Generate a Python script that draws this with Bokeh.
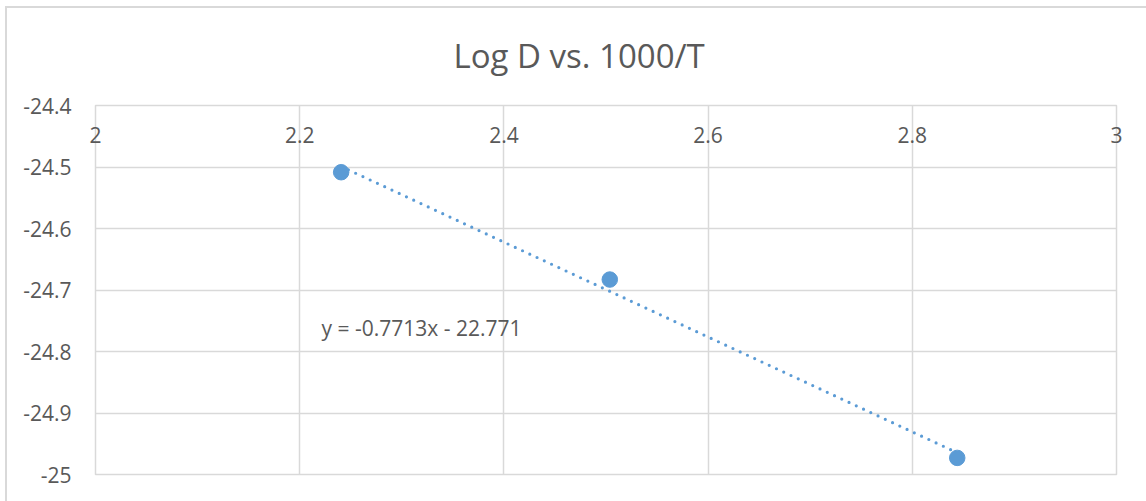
from bokeh.plotting import figure
from bokeh.models import FixedTicker, Label, ColumnDataSource
from bokeh.embed import file_html
from bokeh.resources import INLINE

# ---- data ----
x_vals = [2.2406, 2.5037, 2.8440]
y_vals = [-24.5085, -24.6830, -24.9730]
trend_slope = -0.7713
trend_intercept = -22.771
x_ticks = [2.0, 2.2, 2.4, 2.6, 2.8, 3.0]
x_labels = ["2", "2.2", "2.4", "2.6", "2.8", "3"]
y_ticks = [-25.0, -24.9, -24.8, -24.7, -24.6, -24.5, -24.4]
y_labels = ["-25", "-24.9", "-24.8", "-24.7", "-24.6", "-24.5", "-24.4"]
title_text = "Log D vs. 1000/T"

BLUE = "#5b9bd5"
GRID = "#d9d9d9"
TXT = "#595959"
FONT = "Open Sans"

p = figure(width=1146, height=501, output_backend="svg", toolbar_location=None,
           x_range=(2, 3), y_range=(-25, -24.4), x_axis_location="above",
           min_border_left=95, min_border_right=30, min_border_top=105, min_border_bottom=27)

p.title.text = title_text
p.title.text_font = FONT
p.title.text_font_size = "33px"
p.title.text_font_style = "normal"
p.title.text_color = TXT
p.title.align = "left"
p.title.offset = 358
p.title.standoff = 56

p.outline_line_color = GRID
p.outline_line_width = 1.5
p.background_fill_color = "white"
p.border_fill_alpha = 0
p.styles = {
    "background": "linear-gradient(#d9d9d9,#d9d9d9) 5px 6px / 2px 100% no-repeat, "
                  "linear-gradient(#d9d9d9,#d9d9d9) 5px 6px / 100% 2px no-repeat, white"
}

# axes
xa = p.xaxis[0]
xa.ticker = FixedTicker(ticks=x_ticks)
xa.major_label_overrides = {t: l for t, l in zip(x_ticks, x_labels)}
xa.axis_line_color = None
xa.major_tick_line_color = None
xa.minor_tick_line_color = None
xa.major_tick_out = 0
xa.major_tick_in = 0
xa.major_label_standoff = -37
xa.major_label_text_font = FONT
xa.major_label_text_font_size = "21px"
xa.major_label_text_color = TXT

ya = p.yaxis[0]
ya.ticker = FixedTicker(ticks=y_ticks)
ya.major_label_overrides = {t: l for t, l in zip(y_ticks, y_labels)}
ya.axis_line_color = None
ya.major_tick_line_color = None
ya.minor_tick_line_color = None
ya.major_tick_out = 0
ya.major_tick_in = 0
ya.major_label_standoff = 24
ya.major_label_text_font = FONT
ya.major_label_text_font_size = "21px"
ya.major_label_text_color = TXT

p.xgrid.ticker = FixedTicker(ticks=x_ticks)
p.ygrid.ticker = FixedTicker(ticks=y_ticks)
p.xgrid.grid_line_color = GRID
p.ygrid.grid_line_color = GRID
p.xgrid.grid_line_width = 1.5
p.ygrid.grid_line_width = 1.5

# trendline (Excel linear trend across the data range)
tx = [min(x_vals), max(x_vals)]
ty = [trend_slope * v + trend_intercept for v in tx]
p.line(tx, ty, line_color=BLUE, line_width=3.2, line_dash="0 8", line_cap="round")

src = ColumnDataSource(dict(x=x_vals, y=y_vals))
p.scatter("x", "y", source=src, size=15.5, fill_color=BLUE, line_color=BLUE)

eq = "y = {:.4f}x - {:.3f}".format(trend_slope, abs(trend_intercept))
p.add_layout(Label(x=2.2214, y=-24.761, text=eq, text_font=FONT, text_font_size="21px",
                   text_color=TXT, text_baseline="alphabetic", text_align="left"))

open("out.html", "w").write(file_html(p, INLINE))
